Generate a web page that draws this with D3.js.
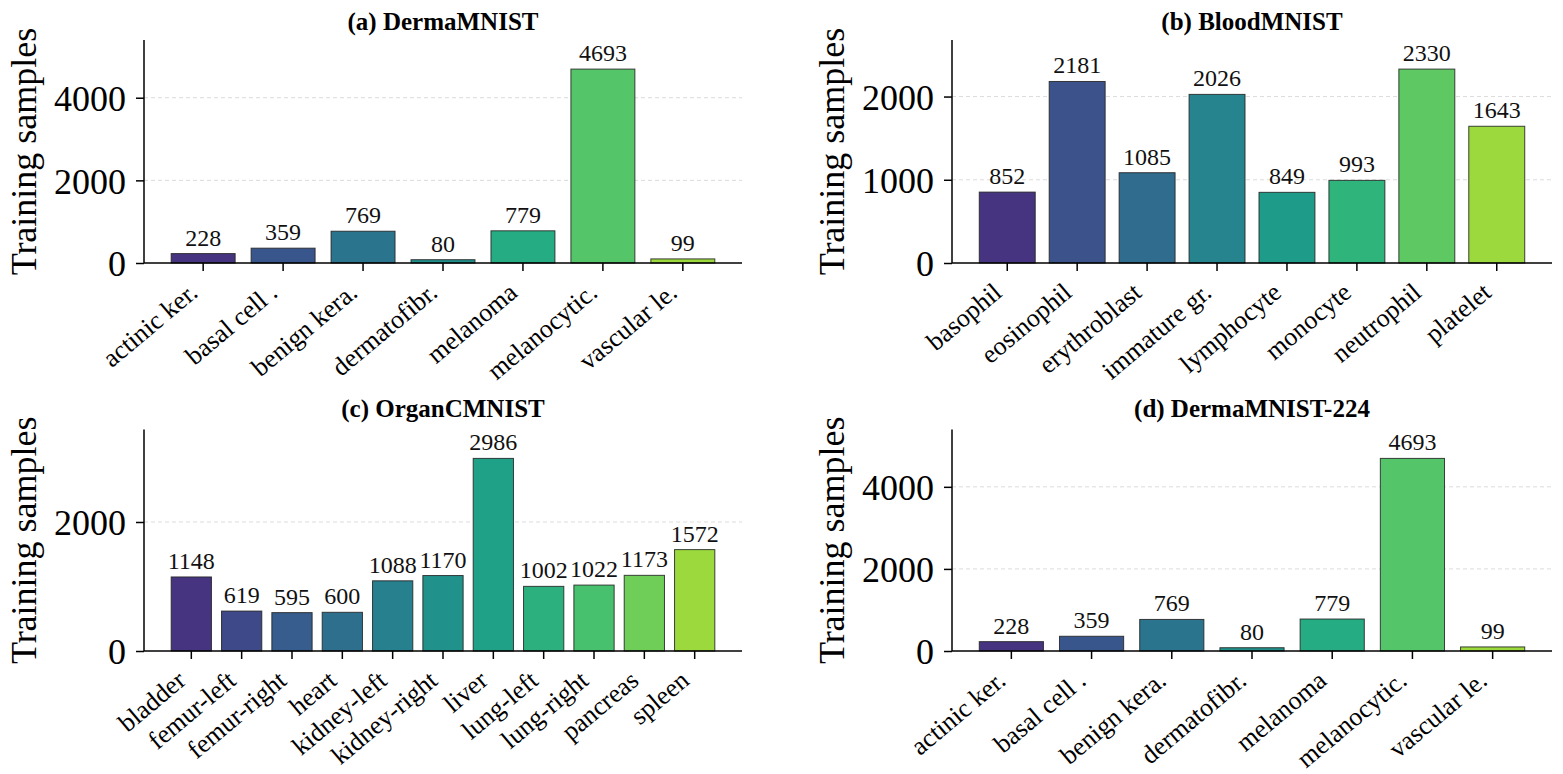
<!DOCTYPE html>
<html>
<head>
<meta charset="utf-8">
<script src="https://cdn.jsdelivr.net/npm/d3@7"></script>
<style>
  html, body { margin: 0; padding: 0; background: #fff; }
  svg { display: block; font-family: "Liberation Serif", "Times New Roman", serif; }
</style>
</head>
<body>
<svg id="chart" width="1563" height="774"></svg>
<script>
// ---- data ----
const dermaCategories = ["actinic ker.", "basal cell .", "benign kera.", "dermatofibr.", "melanoma", "melanocytic.", "vascular le."];
const dermaValues = [228, 359, 769, 80, 779, 4693, 99];
const bloodCategories = ["basophil", "eosinophil", "erythroblast", "immature gr.", "lymphocyte", "monocyte", "neutrophil", "platelet"];
const bloodValues = [852, 2181, 1085, 2026, 849, 993, 2330, 1643];
const organCategories = ["bladder", "femur-left", "femur-right", "heart", "kidney-left", "kidney-right", "liver", "lung-left", "lung-right", "pancreas", "spleen"];
const organValues = [1148, 619, 595, 600, 1088, 1170, 2986, 1002, 1022, 1173, 1572];
const derma224Categories = ["actinic ker.", "basal cell .", "benign kera.", "dermatofibr.", "melanoma", "melanocytic.", "vascular le."];
const derma224Values = [228, 359, 769, 80, 779, 4693, 99];
const titles = ["(a) DermaMNIST", "(b) BloodMNIST", "(c) OrganCMNIST", "(d) DermaMNIST-224"];
const yTicksA = [0, 2000, 4000];
const yTicksB = [0, 1000, 2000];
const yTicksC = [0, 2000];
const yTicksD = [0, 2000, 4000];
const yLabel = "Training samples";

// ---- layout ----
const panels = [
  { title: titles[0], cats: dermaCategories, vals: dermaValues, ticks: yTicksA, x0: 144, x1: 742, y0: 40, y1: 263, ty: 30 },
  { title: titles[1], cats: bloodCategories, vals: bloodValues, ticks: yTicksB, x0: 952, x1: 1552, y0: 40, y1: 263, ty: 30 },
  { title: titles[2], cats: organCategories, vals: organValues, ticks: yTicksC, x0: 144, x1: 742, y0: 429.5, y1: 651, ty: 417 },
  { title: titles[3], cats: derma224Categories, vals: derma224Values, ticks: yTicksD, x0: 952, x1: 1552, y0: 429.5, y1: 651, ty: 417 }
];

const svg = d3.select("#chart");

panels.forEach(p => {
  const n = p.cats.length;
  const x = d3.scaleBand()
    .domain(p.cats)
    .range([p.x0, p.x1])
    .paddingInner(0.2)
    .paddingOuter(0.05 * (n - 0.2));
  const y = d3.scaleLinear()
    .domain([0, d3.max(p.vals) * 1.15])
    .range([p.y1, p.y0]);
  const cpos = d3.scaleLinear().domain([0, n - 1]).range([0.15, 0.85]);
  const colors = p.cats.map((c, i) => d3.interpolateViridis(cpos(i)));

  const g = svg.append("g");

  // gridlines
  g.append("g").selectAll("line").data(p.ticks.filter(t => t > 0)).join("line")
    .attr("x1", p.x0).attr("x2", p.x1)
    .attr("y1", d => y(d)).attr("y2", d => y(d))
    .attr("stroke", "#dcdcdc").attr("stroke-width", 1)
    .attr("stroke-dasharray", "4,3");

  // bars
  g.append("g").selectAll("rect").data(p.vals).join("rect")
    .attr("x", (d, i) => x(p.cats[i]))
    .attr("width", x.bandwidth())
    .attr("y", d => y(d))
    .attr("height", d => y(0) - y(d))
    .attr("fill", (d, i) => colors[i])
    .attr("stroke", "#222").attr("stroke-opacity", 0.85).attr("stroke-width", 1);

  // value labels
  g.append("g").selectAll("text").data(p.vals).join("text")
    .attr("x", (d, i) => x(p.cats[i]) + x.bandwidth() / 2)
    .attr("y", d => y(d) - 8)
    .attr("text-anchor", "middle")
    .attr("font-size", 24)
    .attr("fill", "#111")
    .text(d => d);

  // y axis
  const yAxis = d3.axisLeft(y).tickValues(p.ticks).tickSize(8).tickPadding(10).tickFormat(d3.format("d"));
  const ya = g.append("g").attr("transform", `translate(${p.x0},0)`).call(yAxis);
  ya.select(".domain").attr("stroke", "#000").attr("stroke-width", 1.5).attr("d", `M0,${p.y0}V${p.y1}`);
  ya.selectAll(".tick line").attr("stroke", "#000").attr("stroke-width", 1.5);
  ya.selectAll(".tick text").attr("font-size", 36).attr("font-family", "Liberation Serif").attr("fill", "#000")
    .attr("dy", "0.36em");

  // x axis
  const xAxis = d3.axisBottom(x).tickSize(8).tickPadding(6);
  const xa = g.append("g").attr("transform", `translate(0,${p.y1})`).call(xAxis);
  xa.select(".domain").attr("stroke", "#000").attr("stroke-width", 1.5).attr("d", `M${p.x0},0H${p.x1}`);
  xa.selectAll(".tick line").attr("stroke", "#000").attr("stroke-width", 1.5);
  xa.selectAll(".tick text")
    .attr("font-size", 26).attr("font-family", "Liberation Serif").attr("fill", "#000")
    .attr("text-anchor", "end")
    .attr("x", 0).attr("y", 0).attr("dy", 0)
    .attr("transform", "translate(-4,32) rotate(-40)");

  // y label
  g.append("text")
    .attr("transform", `translate(${p.x0 - 108},${(p.y0 + p.y1) / 2}) rotate(-90)`)
    .attr("text-anchor", "middle")
    .attr("font-size", 36)
    .attr("fill", "#000")
    .text(yLabel);

  // title
  g.append("text")
    .attr("x", (p.x0 + p.x1) / 2).attr("y", p.ty)
    .attr("text-anchor", "middle")
    .attr("font-size", 25).attr("font-weight", "bold")
    .attr("fill", "#000")
    .text(p.title);
});
</script>
</body>
</html>
